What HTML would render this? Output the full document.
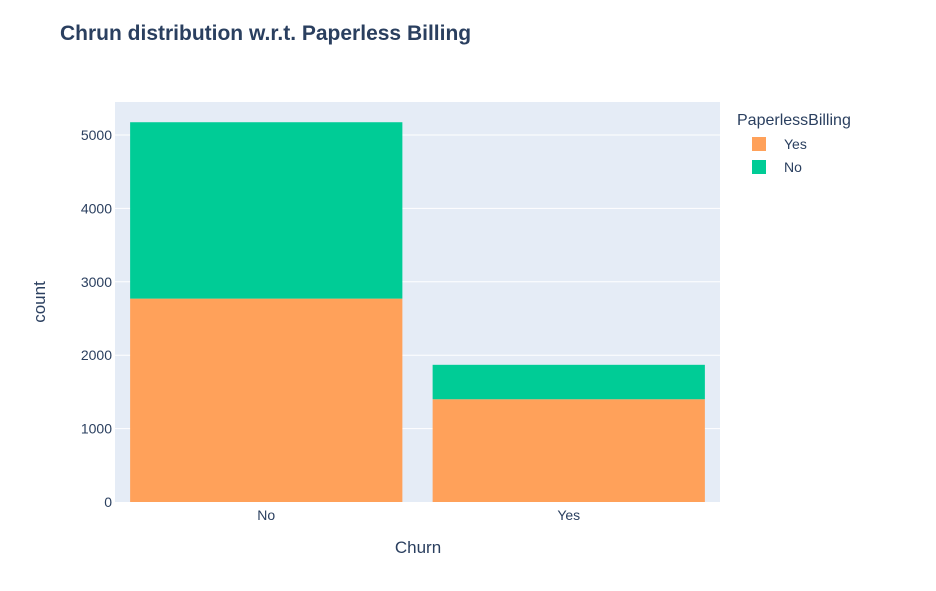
<!DOCTYPE html>
<html><head><meta charset="utf-8">
<style>
body{margin:0;background:#fff;}
svg text{font-family:"Liberation Sans",Arial,sans-serif;fill:#2a3f5f;}
</style></head>
<body>
<svg id="chart" width="936" height="586" xmlns="http://www.w3.org/2000/svg">
<rect width="936" height="586" fill="#fff"/>
<text x="60" y="40" font-size="21" font-weight="bold">Chrun distribution w.r.t. Paperless Billing</text>
<rect x="115" y="102" width="605" height="400" fill="#e5ecf6"/>
<g id="grid"></g>
<g id="bars"></g>
<g id="axes"></g>
<text x="418" y="553" font-size="17" text-anchor="middle">Churn</text>
<text transform="translate(45,302) rotate(-90)" font-size="17" text-anchor="middle">count</text>
<g>
<text x="737" y="125" font-size="16">PaperlessBilling</text>
<g>
<rect x="752" y="137" width="14" height="14" fill="#ffa15a"/>
<text x="784" y="149" font-size="14">Yes</text></g>
<g>
<rect x="752" y="160" width="14" height="14" fill="#00cc96"/>
<text x="784" y="172" font-size="14">No</text></g>
</g>
</svg>
<script>
const categories=["No","Yes"];
const yesValues=[2771,1400];
const noValues=[2403,469];
const yTicks=[0,1000,2000,3000,4000,5000];
const NS="http://www.w3.org/2000/svg";
const x0=115,pw=605,y0=502,scale=367/5000;
function yPos(v){return y0-v*scale;}
function xBand(i){return x0+pw/categories.length*i;}
const bw=pw/categories.length;
const grid=document.getElementById('grid'),bars=document.getElementById('bars'),axes=document.getElementById('axes');
yTicks.forEach(t=>{
 if(t>0){const l=document.createElementNS(NS,'line');
 l.setAttribute('x1',x0);l.setAttribute('x2',x0+pw);l.setAttribute('y1',yPos(t));l.setAttribute('y2',yPos(t));
 l.setAttribute('stroke','#fff');l.setAttribute('stroke-width','1');
 
 
 grid.appendChild(l);}
 const tx=document.createElementNS(NS,'text');
 tx.setAttribute('x',x0-3);tx.setAttribute('y',yPos(t)+5);tx.setAttribute('text-anchor','end');tx.setAttribute('font-size','14');
 tx.textContent=t;
 
 
 axes.appendChild(tx);
});
categories.forEach((c,i)=>{
 const bx=xBand(i)+bw*0.05,w=bw*0.9;
 const r1=document.createElementNS(NS,'rect');
 r1.setAttribute('x',bx);r1.setAttribute('width',w);r1.setAttribute('y',yPos(yesValues[i]));r1.setAttribute('height',yesValues[i]*scale);r1.setAttribute('fill','#ffa15a');
 
 
 bars.appendChild(r1);
 const top=yesValues[i]+noValues[i];
 const r2=document.createElementNS(NS,'rect');
 r2.setAttribute('x',bx);r2.setAttribute('width',w);r2.setAttribute('y',yPos(top));r2.setAttribute('height',noValues[i]*scale);r2.setAttribute('fill','#00cc96');
 
 
 bars.appendChild(r2);
 const tx=document.createElementNS(NS,'text');
 tx.setAttribute('x',xBand(i)+bw/2);tx.setAttribute('y',520);tx.setAttribute('text-anchor','middle');tx.setAttribute('font-size','14');
 tx.textContent=c;
 
 
 axes.appendChild(tx);
});
</script>
</body></html>
